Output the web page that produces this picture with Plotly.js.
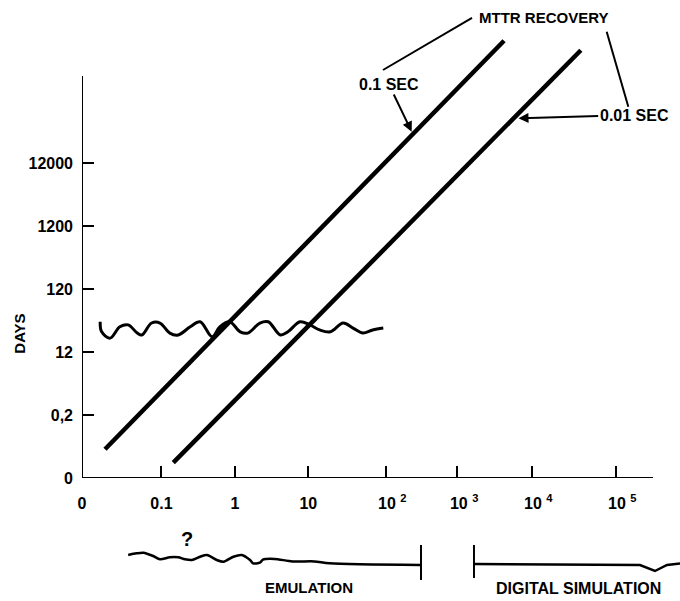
<!DOCTYPE html>
<html><head><meta charset="utf-8">
<script src="https://cdn.plot.ly/plotly-3.0.1.min.js"></script>
<style>html,body{margin:0;padding:0;background:#fff}</style>
</head><body><div id="chart" style="width:680px;height:601px"></div>
<script>
// Horizontal axis: decade positions (0 = origin). Vertical axis: category steps.
const xTickVals = [0, 1.05, 2.02, 2.99, 4.01, 4.96, 5.94, 7.05];
const xTickText = ['0', '0.1', '1', '10',
  '\u00a0\u00a0\u00a010 <sup style="font-size:14px">2</sup>',
  '\u00a0\u00a0\u00a010 <sup style="font-size:14px">3</sup>',
  '\u00a0\u00a0\u00a010 <sup style="font-size:14px">4</sup>',
  '\u00a0\u00a0\u00a010 <sup style="font-size:14px">5</sup>'];
const yTickVals = [0, 1, 2, 3, 4, 5];
const yTickText = ['0', '0,2', '12', '120', '1200', '12000'];

// MTTR recovery lines
const rec01X = [0.304, 5.575];
const rec01Y = [0.456, 6.94];
const rec001X = [1.206, 6.59];
const rec001Y = [0.243, 6.79];

// wavy band
const waveX = [0.24,0.26,0.37,0.50,0.61,0.73,0.79,0.92,1.03,1.16,1.27,1.43,1.56,1.72,1.82,1.95,2.09,2.19,2.35,2.46,2.62,2.72,2.88,3.01,3.14,3.28,3.45,3.58,3.71,3.84,3.98];
const waveY = [2.48,2.32,2.22,2.40,2.43,2.30,2.27,2.46,2.46,2.30,2.27,2.40,2.48,2.24,2.40,2.48,2.32,2.30,2.46,2.48,2.27,2.32,2.48,2.43,2.35,2.32,2.46,2.38,2.30,2.35,2.38];

// lower strip: emulation / digital simulation ranges
const emulationX = [0.61,0.72,0.81,0.94,1.03,1.16,1.27,1.36,1.45,1.56,1.65,1.78,1.87,2.00,2.11,2.22,2.26,2.35,2.39,2.54,2.78,3.07,3.27,4.47];
const emulationY = [1.0,1.17,1.23,0.9,0.57,0.77,0.77,0.57,0.5,0.83,1.0,0.5,0.33,0.83,1.0,0.5,0.17,0.23,0.54,0.61,0.36,0.36,0.17,0];
const emulationEndX = [4.478, 4.478];
const emulationEndY = [2.0, -1.5];
const digitalStartX = [5.178, 5.178];
const digitalStartY = [2.0, -1.3];
const digitalX = [5.178, 7.371, 7.569, 7.728, 7.90];
const digitalY = [0.1, 0, -0.6, 0, 0.15];

const blk = '#000';
const fontFam = 'Liberation Sans, Arial, sans-serif';
const bf = (s) => ({family: fontFam, size: s, color: blk, weight: 'bold'});

const traces = [
  {x: rec01X, y: rec01Y, mode: 'lines', line: {color: blk, width: 4.5}, xaxis: 'x', yaxis: 'y'},
  {x: rec001X, y: rec001Y, mode: 'lines', line: {color: blk, width: 4.5}, xaxis: 'x', yaxis: 'y'},
  {x: waveX, y: waveY, mode: 'lines', line: {color: blk, width: 3, shape: 'spline', smoothing: 1}, xaxis: 'x', yaxis: 'y'},
  {x: emulationX, y: emulationY, mode: 'lines', line: {color: blk, width: 2.5, shape: 'spline', smoothing: 0.8}, xaxis: 'x2', yaxis: 'y2'},
  {x: emulationEndX, y: emulationEndY, mode: 'lines', line: {color: blk, width: 2}, xaxis: 'x2', yaxis: 'y2'},
  {x: digitalStartX, y: digitalStartY, mode: 'lines', line: {color: blk, width: 2}, xaxis: 'x2', yaxis: 'y2'},
  {x: digitalX, y: digitalY, mode: 'lines', line: {color: blk, width: 2.5}, xaxis: 'x2', yaxis: 'y2'}
];

const layout = {
  width: 680, height: 601,
  margin: {l: 82, r: 0, t: 0, b: 0},
  paper_bgcolor: '#fff', plot_bgcolor: 'rgba(0,0,0,0)',
  showlegend: false,
  font: bf(16),
  xaxis: {domain: [0, 1], range: [0, 7.8996], anchor: 'y', tickmode: 'array', tickvals: xTickVals, ticktext: xTickText,
          ticks: 'inside', ticklen: 12, tickwidth: 2, tickcolor: blk, showline: false, showgrid: false, zeroline: false,
          ticklabelstandoff: 14, automargin: false, tickfont: bf(16), fixedrange: true},
  yaxis: {domain: [0.20466, 1], range: [0, 7.587], anchor: 'x', tickmode: 'array', tickvals: yTickVals, ticktext: yTickText,
          ticks: 'inside', ticklen: 12, tickwidth: 2, tickcolor: blk, showline: false, showgrid: false, zeroline: false,
          ticklabelstandoff: 8, automargin: false, tickfont: bf(16), fixedrange: true},
  xaxis2: {matches: 'x', anchor: 'y2', visible: false},
  yaxis2: {domain: [0, 0.20466], range: [-3.6, 8.7], anchor: 'x2', visible: false},
  shapes: [
    {type: 'line', xref: 'x', yref: 'y', x0: 0, y0: 0, x1: 0, y1: 6.38, line: {color: blk, width: 2}},
    {type: 'line', xref: 'x', yref: 'y', x0: 0, y0: 0, x1: 7.543, y1: 0, line: {color: blk, width: 2}},
    {type: 'line', xref: 'x', yref: 'y', x0: 5.152, y0: 7.302, x1: 3.976, y1: 6.476, line: {color: blk, width: 2}},
    {type: 'line', xref: 'x', yref: 'y', x0: 6.931, y0: 7.084, x1: 7.217, y1: 5.894, line: {color: blk, width: 2}}
  ],
  annotations: [
    {xref: 'x', yref: 'y', x: 6.098, y: 7.302, text: 'MTTR RECOVERY', showarrow: false, font: bf(15)},
    {xref: 'x', yref: 'y', x: 4.355, y: 5.497, text: '0.1 SEC', showarrow: true, ax: -22.7, ay: -47.2,
     arrowhead: 2, arrowsize: 1, arrowwidth: 2, arrowcolor: blk, font: bf(16)},
    {xref: 'x', yref: 'y', x: 5.766, y: 5.709, text: '0.01 SEC', showarrow: true, ax: 115.7, ay: -3.3,
     arrowhead: 2, arrowsize: 1, arrowwidth: 2, arrowcolor: blk, font: bf(16)},
    {xref: 'paper', yref: 'y', x: -0.1037, y: 2.29, xanchor: 'center', yanchor: 'middle', text: 'DAYS', textangle: -90, showarrow: false, font: bf(15)},
    {xref: 'x2', yref: 'y2', x: 1.387, y: 2.6, text: '?', showarrow: false, font: bf(20)},
    {xref: 'x2', yref: 'y2', x: 3.0, y: -2.3, text: 'EMULATION', showarrow: false, font: bf(15)},
    {xref: 'x2', yref: 'y2', x: 6.565, y: -2.4, text: 'DIGITAL SIMULATION', showarrow: false, font: bf(16)}
  ]
};

Plotly.newPlot('chart', traces, layout, {staticPlot: true, displayModeBar: false});
</script>
</body></html>
